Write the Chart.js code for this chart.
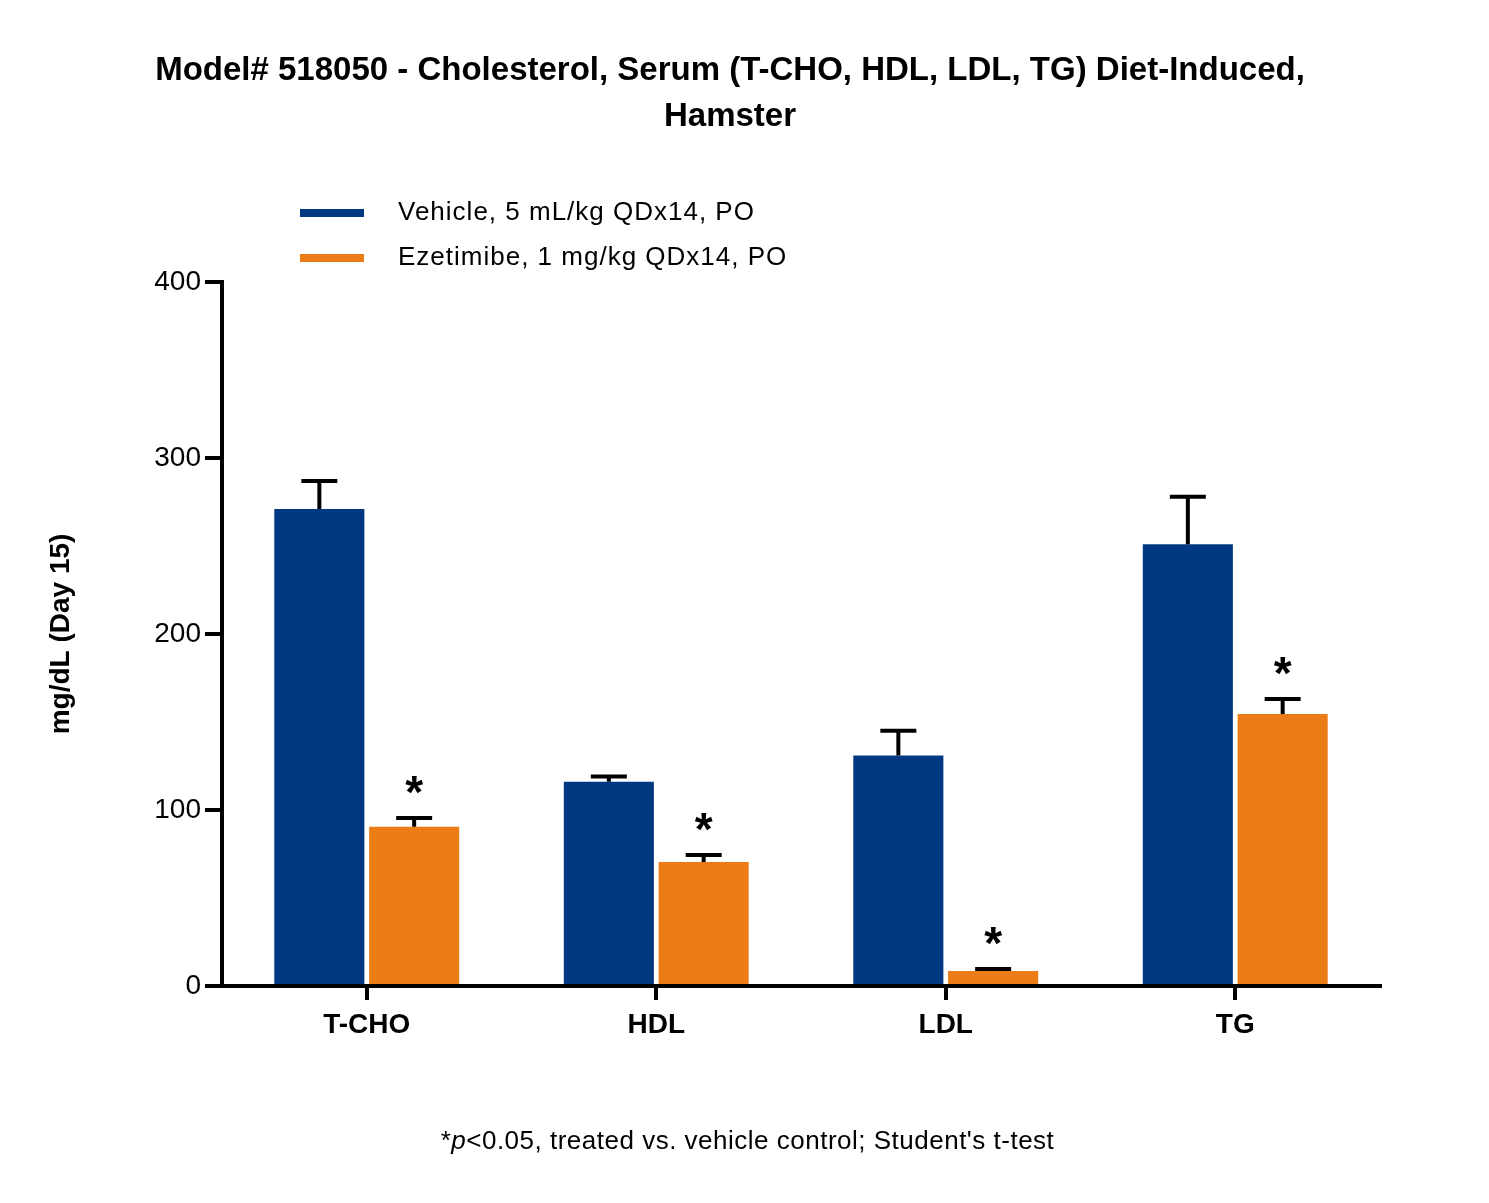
<!DOCTYPE html>
<html><head><meta charset="utf-8">
<script src="https://cdn.jsdelivr.net/npm/chart.js@4"></script>
<style>
body{margin:0;background:#fff;font-family:"Liberation Sans",Arial,sans-serif;}
#wrap{position:relative;width:1489px;height:1203px;}
.t{position:absolute;left:0;width:1460px;text-align:center;font-weight:bold;font-size:33px;color:#000;}
.lg{position:absolute;left:300px;font-size:26px;letter-spacing:1px;}
.lg span{display:inline-block;width:64px;height:8px;vertical-align:middle;margin-right:34px;}
#foot{position:absolute;top:1125px;left:0;width:1495px;text-align:center;font-size:26px;letter-spacing:0.5px;}
canvas{position:absolute;left:0;top:0;}
</style></head><body>
<div id="wrap">
<canvas id="c" width="1489" height="1203"></canvas>
<div class="t" style="top:50px">Model# 518050 - Cholesterol, Serum (T-CHO, HDL, LDL, TG) Diet-Induced,</div>
<div class="t" style="top:96px">Hamster</div>
<div class="lg" style="top:196px"><span style="background:#003882"></span>Vehicle, 5 mL/kg QDx14, PO</div>
<div class="lg" style="top:241px"><span style="background:#ec7d16"></span>Ezetimibe, 1 mg/kg QDx14, PO</div>
<div id="foot">*<i>p</i>&lt;0.05, treated vs. vehicle control; Student's t-test</div>
</div>
<script>
const categories=["T-CHO","HDL","LDL","TG"];
const vehicle=[271,116,131,251];
const vehicleErr=[287,119,145,278];
const ezetimibe=[90.5,70.5,8.5,154.5];
const ezetimibeErr=[95.5,74.5,9.7,163];
const significant=[true,true,true,true];

const errPlugin={id:'err',afterDatasetsDraw(ch){
 const ctx=ch.ctx,y=ch.scales.y;
 [[0,vehicle,vehicleErr],[1,ezetimibe,ezetimibeErr]].forEach(([i,v,e])=>{
  ch.getDatasetMeta(i).data.forEach((b,k)=>{
   const y0=y.getPixelForValue(v[k]),y1=y.getPixelForValue(e[k]);
   ctx.save();ctx.strokeStyle='#000';ctx.lineWidth=4;ctx.beginPath();
   ctx.moveTo(b.x,y0);ctx.lineTo(b.x,y1);ctx.moveTo(b.x-18,y1);ctx.lineTo(b.x+18,y1);ctx.stroke();
   if(i===1&&significant[k]){ctx.fillStyle='#000';ctx.font='bold 46px "Liberation Sans",Arial';ctx.textAlign='center';ctx.textBaseline='alphabetic';ctx.fillText('*',b.x,y1-10);}
   ctx.restore();
  });
 });
}};

new Chart(document.getElementById('c'),{type:'bar',
 data:{labels:categories,datasets:[
  {data:vehicle,backgroundColor:'#003882',categoryPercentage:0.655,barPercentage:0.95},
  {data:ezetimibe,backgroundColor:'#ec7d16',categoryPercentage:0.655,barPercentage:0.95}]},
 options:{responsive:false,animation:false,
  layout:{padding:{top:282,bottom:137,left:40,right:109}},
  plugins:{legend:{display:false},tooltip:{enabled:false}},
  scales:{
   x:{afterFit:s=>{s.height=80;},border:{color:'#000',width:4},
      grid:{offset:false,drawOnChartArea:false,color:'#000',lineWidth:4,tickLength:14},
      ticks:{color:'#000',font:{family:'"Liberation Sans",Arial',size:28,weight:'bold'},padding:8}},
   y:{min:0,max:400,afterFit:s=>{s.width=182;},border:{color:'#000',width:4},
      grid:{drawOnChartArea:false,color:'#000',lineWidth:4,tickLength:17},
      ticks:{stepSize:100,color:'#000',font:{family:'"Liberation Sans",Arial',size:28},padding:4},
      title:{display:true,text:'mg/dL (Day 15)',color:'#000',font:{family:'"Liberation Sans",Arial',size:28,weight:'bold'},padding:{bottom:20}}}
  }},
 plugins:[errPlugin]});
</script>
</body></html>
